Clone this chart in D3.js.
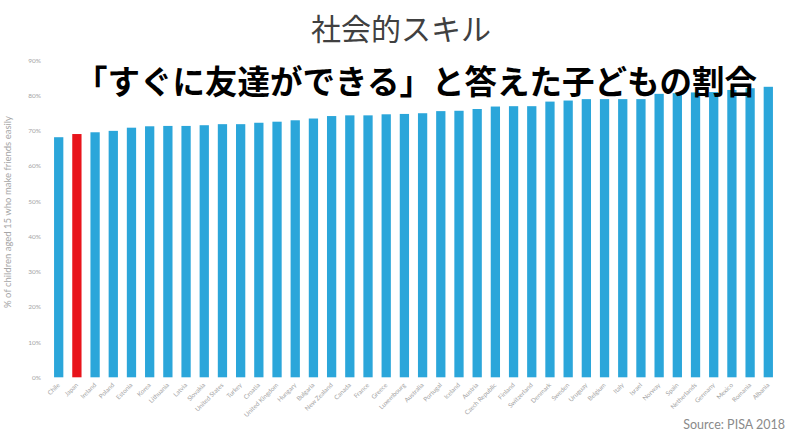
<!DOCTYPE html>
<html><head><meta charset="utf-8">
<script src="https://cdn.jsdelivr.net/npm/d3@7"></script>
<style>body{margin:0;background:#fff;} svg{display:block;}</style>
</head><body>
<svg id="chart" width="788" height="433"></svg>
<script>
const countries = ["Chile","Japan","Ireland","Poland","Estonia","Korea","Lithuania","Latvia","Slovakia","United States","Turkey","Croatia","United Kingdom","Hungary","Bulgaria","New Zealand","Canada","France","Greece","Luxembourg","Australia","Portugal","Iceland","Austria","Czech Republic","Finland","Switzerland","Denmark","Sweden","Uruguay","Belgium","Italy","Israel","Norway","Spain","Netherlands","Germany","Mexico","Romania","Albania"];
const values = [68.1,69.0,69.5,69.9,70.8,71.2,71.3,71.3,71.5,71.8,71.8,72.2,72.5,72.9,73.4,74.1,74.3,74.3,74.6,74.7,74.9,75.5,75.6,76.1,76.8,76.9,76.9,78.2,78.5,78.9,78.9,78.9,78.9,80.4,80.6,80.8,80.9,81.5,82.0,82.4];
const yTicks = [0,10,20,30,40,50,60,70,80,90];
const highlight = "Japan";
const title = "社会的スキル";
const subtitle = "「すぐに友達ができる」と答えた子どもの割合";
const yLabel = "% of children aged 15 who make friends easily";
const source = "Source: PISA 2018";

const svg = d3.select("#chart");
const x = d3.scaleBand().domain(countries).range([49.6, 777.4]).paddingInner(0.49).paddingOuter(0.245);
const y = d3.scaleLinear().domain([0, 90]).range([377.3, 60]);

const data = countries.map((c, i) => ({c, v: values[i]}));

svg.selectAll("rect.bar").data(data).join("rect")
  .attr("class", "bar")
  .attr("x", d => x(d.c)).attr("width", x.bandwidth())
  .attr("y", d => y(d.v)).attr("height", d => y(0) - y(d.v))
  .attr("fill", d => d.c === highlight ? "#e8141b" : "#2ba6da");

// y axis
const yAxis = d3.axisLeft(y).tickValues(yTicks).tickFormat(d => d + "%").tickSize(0).tickPadding(0);
const gy = svg.append("g").attr("transform", "translate(41,0)").call(yAxis);
gy.select(".domain").remove();
gy.selectAll("text").attr("fill", "#a5a5a5").style("font-family", "Lato, sans-serif").style("font-size", "6.5px");

// x axis
const xAxis = d3.axisBottom(x).tickSize(0).tickPadding(0);
const gx = svg.append("g").attr("transform", "translate(0,384)").call(xAxis);
gx.select(".domain").remove();
gx.selectAll("text")
  .attr("fill", "#a5a5a5").style("font-family", "Lato, sans-serif").style("font-size", "6.3px")
  .attr("text-anchor", "end").attr("dy", "0.35em")
  .attr("transform", "rotate(-45)");

// y label
svg.append("text")
  .attr("transform", "translate(11,212) rotate(-90)")
  .attr("text-anchor", "middle")
  .attr("fill", "#a5a5a5")
  .style("font-family", "Lato, sans-serif").style("font-size", "9.5px")
  .text(yLabel);

// titles
svg.append("text").attr("x", 401).attr("y", 40).attr("text-anchor", "middle")
  .attr("fill", "#404040").style("font-family", "'Noto Sans CJK JP'").style("font-size", "30px")
  .text(title);
svg.append("text").attr("x", 416).attr("y", 94).attr("text-anchor", "middle")
  .attr("fill", "#000").style("font-family", "'Noto Sans CJK JP'").style("font-weight", "bold").style("font-size", "32.5px")
  .text(subtitle);

svg.append("text").attr("x", 785).attr("y", 429).attr("text-anchor", "end")
  .attr("fill", "#8a8a8a").style("font-family", "Lato, sans-serif").style("font-size", "12.5px")
  .text(source);
</script>
</body></html>
